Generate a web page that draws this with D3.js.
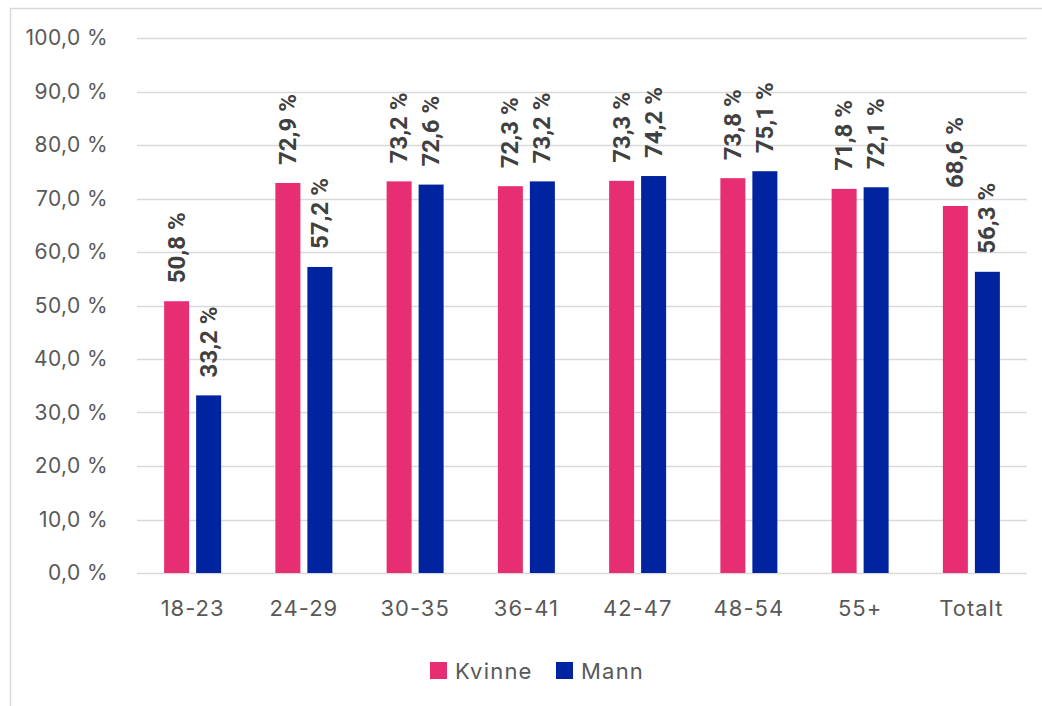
<!DOCTYPE html>
<html>
<head>
<meta charset="utf-8">
<script src="https://cdn.jsdelivr.net/npm/d3@7"></script>
<style>
  body { margin: 0; background: #fff; }
  svg { display: block; }
</style>
</head>
<body>
<div id="chart"></div>
<script>
// data
var categories = ["18-23", "24-29", "30-35", "36-41", "42-47", "48-54", "55+", "Totalt"];
var series = ["Kvinne", "Mann"];
var kvinne = [50.8, 72.9, 73.2, 72.3, 73.3, 73.8, 71.8, 68.6];
var mann = [33.2, 57.2, 72.6, 73.2, 74.2, 75.1, 72.1, 56.3];
var yTicks = [0, 10, 20, 30, 40, 50, 60, 70, 80, 90, 100];
var colors = ["#e82e72", "#0024a0"];

var svgWidth = 1042;
var svgHeight = 706;

var plot = { left: 137, right: 1027, top: 38, bottom: 573 };

var svg = d3.select("#chart").append("svg")
    .attr("width", svgWidth)
    .attr("height", svgHeight);

// frame of the chart area
svg.append("rect")
    .attr("x", 10.5)
    .attr("y", 8.5)
    .attr("width", 1060)
    .attr("height", 720)
    .attr("fill", "none")
    .attr("stroke", "#d9d9d9")
    .attr("stroke-width", 1.5);

var yScale = d3.scaleLinear()
    .domain([0, 100])
    .range([plot.bottom, plot.top]);

var x0 = d3.scaleBand()
    .domain(categories)
    .range([plot.left, plot.right]);

// two bars of 25px with a 7px gap, centred in each band
var x1 = d3.scaleBand()
    .domain(series)
    .range([x0.bandwidth() / 2 - 28.5, x0.bandwidth() / 2 + 28.5])
    .paddingInner(7 / 32);

var fmt = function(v) { return d3.format(".1f")(v).replace(".", ",") + " %"; };

var textFont = "Inter, 'Noto Sans', sans-serif";

// gridlines
svg.append("g").selectAll("line")
    .data(yTicks)
    .enter().append("line")
    .attr("x1", plot.left)
    .attr("x2", plot.right)
    .attr("y1", function(d) { return Math.round(yScale(d)) + 0.5; })
    .attr("y2", function(d) { return Math.round(yScale(d)) + 0.5; })
    .attr("stroke", "#d9d9d9")
    .attr("stroke-width", 1.5);

// y axis labels
var yAxis = d3.axisLeft(yScale)
    .tickValues(yTicks)
    .tickFormat(fmt)
    .tickSize(0)
    .tickPadding(29);

var yG = svg.append("g")
    .attr("transform", `translate(${plot.left}, 0)`)
    .call(yAxis);
yG.select(".domain").remove();
yG.selectAll("text")
    .attr("fill", "#595959")
    .style("font-family", textFont)
    .style("font-size", "21px")
    .style("letter-spacing", "0.4px");

// x axis labels
var xAxis = d3.axisBottom(x0).tickSize(0).tickPadding(27);
var xG = svg.append("g")
    .attr("transform", `translate(0, ${plot.bottom})`)
    .call(xAxis);
xG.select(".domain").remove();
xG.selectAll("text")
    .attr("fill", "#595959")
    .style("font-family", textFont)
    .style("font-size", "22px")
    .style("letter-spacing", "1px");

// bars
var rows = categories.map(function(c, i) {
    return { cat: c, values: [
        { key: "Kvinne", value: kvinne[i] },
        { key: "Mann", value: mann[i] }
    ] };
});

var groups = svg.append("g").selectAll("g")
    .data(rows)
    .enter().append("g")
    .attr("transform", function(d) { return `translate(${x0(d.cat)}, 0)`; });

groups.selectAll("rect")
    .data(function(d) { return d.values; })
    .enter().append("rect")
    .attr("x", function(d) { return x1(d.key); })
    .attr("width", x1.bandwidth())
    .attr("y", function(d) { return yScale(d.value); })
    .attr("height", function(d) { return yScale(0) - yScale(d.value); })
    .attr("fill", function(d, i) { return colors[i]; });

// value labels, rotated
groups.selectAll("text.lbl")
    .data(function(d) { return d.values; })
    .enter().append("text")
    .attr("class", "lbl")
    .attr("transform", function(d) {
        var cx = x1(d.key) + x1.bandwidth() / 2;
        var cy = yScale(d.value) - 18;
        return `translate(${cx}, ${cy}) rotate(-90)`;
    })
    .attr("text-anchor", "start")
    .attr("dominant-baseline", "central")
    .attr("fill", "#404040")
    .style("font-family", "Roboto, 'Liberation Sans', sans-serif")
    .style("font-weight", "bold")
    .style("font-size", "24px")
    .text(function(d) { return fmt(d.value); });

// legend
var legend = svg.append("g");
var legendX = [430, 556];
series.forEach(function(s, i) {
    legend.append("rect")
        .attr("x", legendX[i])
        .attr("y", 662)
        .attr("width", 17)
        .attr("height", 17)
        .attr("fill", colors[i]);
    legend.append("text")
        .attr("x", legendX[i] + 25)
        .attr("y", 671)
        .attr("dominant-baseline", "central")
        .attr("fill", "#595959")
        .style("font-family", textFont)
        .style("font-size", "22px")
        .style("letter-spacing", "1.2px")
        .text(s);
});
</script>
</body>
</html>
